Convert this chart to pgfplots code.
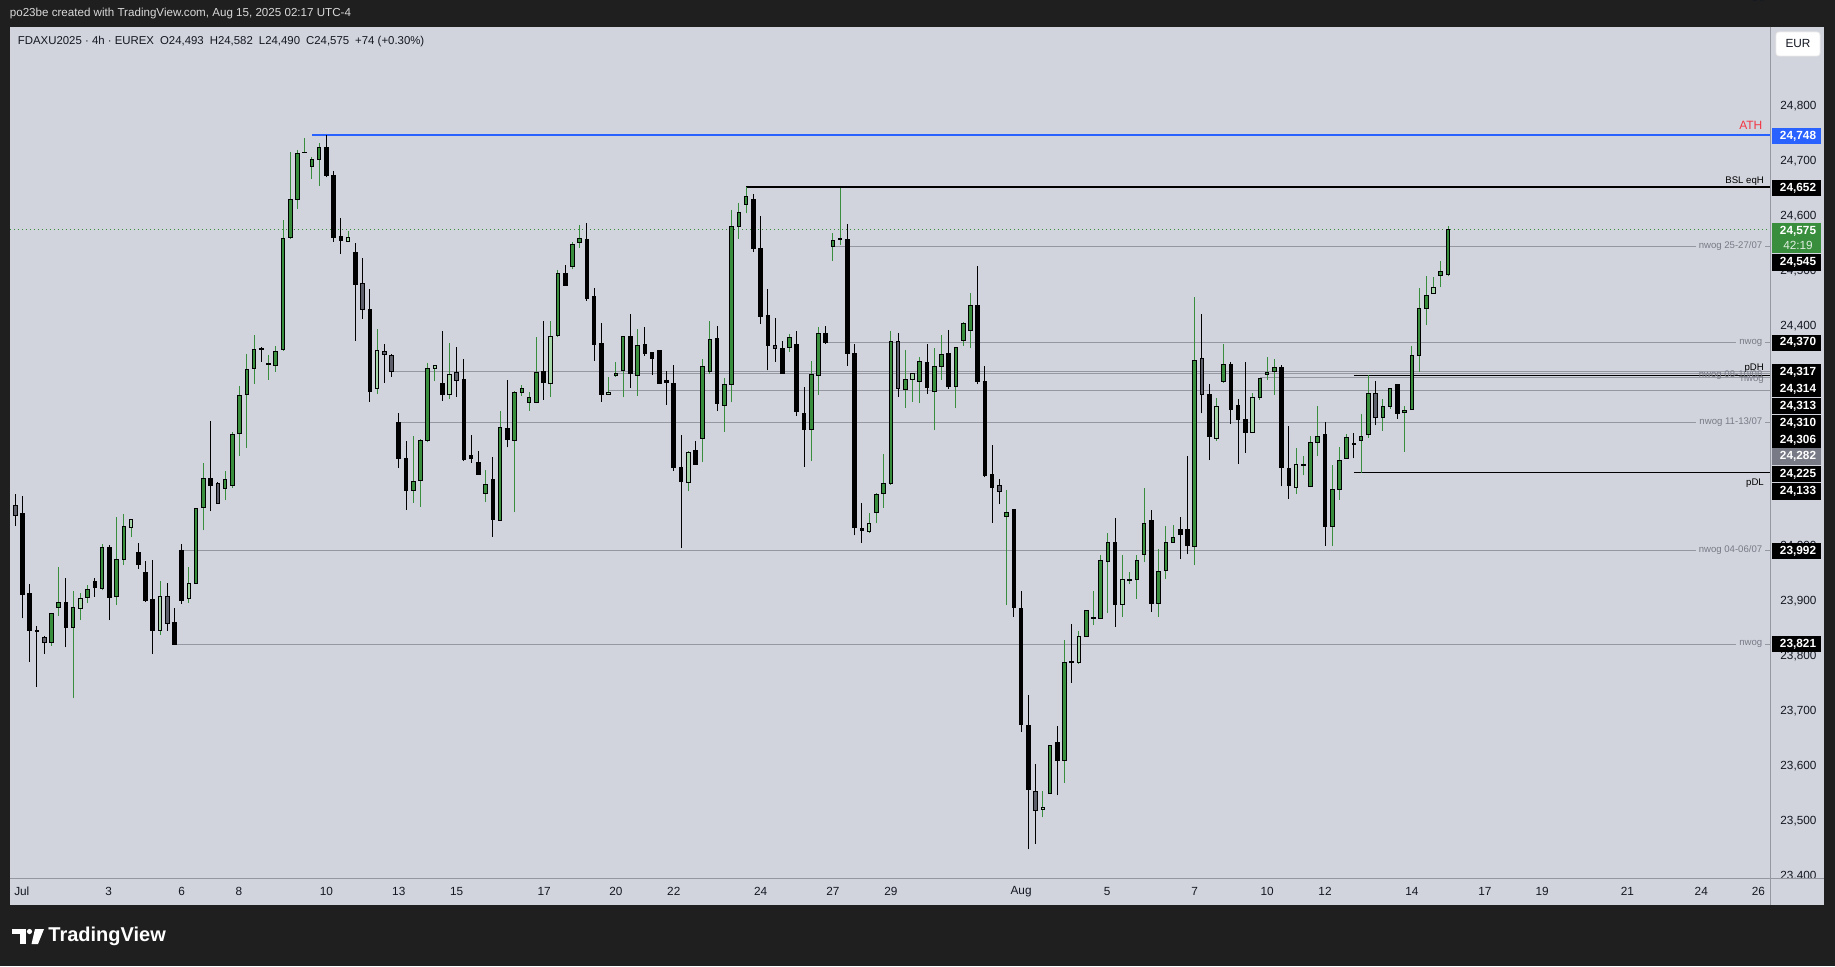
\documentclass[border=0pt]{standalone}
\usepackage{fontspec}
\setmainfont{Liberation Sans}
\usepackage{pgfplots}
\usepackage{pgfplotstable}
\pgfplotsset{compat=1.18}
\definecolor{tvbg}{HTML}{D1D4DC}
\definecolor{frame}{HTML}{1F1F1F}
\definecolor{tvtext}{HTML}{131722}
\definecolor{hdr}{HTML}{D9D9D9}
\definecolor{cG}{HTML}{388E3C}
\definecolor{cL}{HTML}{A5D6A7}
\definecolor{cY}{HTML}{5D606B}
\definecolor{lvl}{HTML}{9598A1}
\definecolor{lbl}{HTML}{787B86}
\definecolor{athblue}{HTML}{2962FF}
\definecolor{athred}{HTML}{F23645}
\definecolor{boxgray}{HTML}{787B86}

\newcommand{\tickf}{\fontsize{5.9pt}{7pt}\selectfont}
\newcommand{\lblf}{\fontsize{4.8pt}{6pt}\selectfont}
\newcommand{\candlebody}[3]{\path #2 coordinate (eA) #3 coordinate (eB);%
  \filldraw[fill=#1, draw=black, line width=0.5pt] ([xshift=-0.9pt]eA) rectangle ([xshift=0.9pt]eB);}
\newcommand{\candlewick}[3]{\draw[draw=#1, line width=0.5pt] #2 -- #3;}
\pgfplotsset{
  wick/.style={forget plot, draw=none, mark=none, error bars/.cd, y dir=plus, y explicit,
     draw error bar/.code 2 args={\candlewick{#1}{##1}{##2}}},
  body/.style={forget plot, draw=none, mark=none, error bars/.cd, y dir=plus, y explicit,
     draw error bar/.code 2 args={\candlebody{#1}{##1}{##2}}},
  lvlline/.style={forget plot, lvl, line width=0.6pt},
}
\tikzset{
  nw/.style={anchor=east, fill=tvbg, inner xsep=1.5pt, inner ysep=0.3pt, text=lbl, font=\lblf},
}

% bullish, dark green
\pgfplotstableread{
i o h l c
5 23824 23877 23818 23877
6 23888 23962 23873 23897
8 23851 23917 23723 23888
10 23906 23929 23896 23921
12 23922 24004 23919 23997
14 23907 24052 23893 23975
15 23975 24058 23966 24035
25 23932 24068 23931 24068
26 24070 24151 24028 24122
29 24104 24137 24083 24120
30 24110 24208 24105 24203
31 24205 24291 24164 24274
32 24275 24349 24178 24321
33 24323 24383 24294 24358
35 24329 24347 24302 24331
36 24328 24363 24317 24354
37 24357 24593 24355 24559
38 24560 24716 24558 24630
39 24630 24720 24613 24714
40 24715 24742 24714 24716
41 24690 24708 24667 24703
42 24702 24733 24655 24725
55 24100 24200 24078 24117
56 24118 24194 24071 24191
57 24191 24332 24188 24323
65 24095 24138 24080 24112
67 24047 24245 24045 24216
69 24192 24282 24061 24279
70 24279 24293 24273 24287
71 24261 24279 24246 24270
72 24261 24380 24259 24316
75 24383 24502 24379 24496
77 24508 24553 24503 24548
78 24552 24584 24542 24559
83 24310 24334 24308 24314
84 24319 24381 24270 24381
86 24310 24394 24273 24365
95 24196 24340 24153 24327
96 24317 24409 24313 24376
98 24256 24305 24208 24294
99 24294 24611 24261 24581
100 24581 24623 24559 24607
101 24621 24652 24605 24636
107 24361 24385 24353 24379
110 24212 24336 24155 24312
111 24310 24398 24275 24387
113 24545 24569 24519 24556
114 24557 24650 24548 24559
119 24061 24096 24041 24094
120 24096 24167 24069 24114
121 24114 24390 24111 24371
123 24285 24356 24251 24303
125 24299 24343 24259 24336
127 24280 24359 24211 24327
128 24327 24384 24302 24348
130 24290 24361 24250 24361
131 24374 24407 24364 24405
132 24392 24460 24359 24437
137 24053 24102 23893 24060
143 23550 23636 23548 23636
145 23609 23828 23569 23788
148 23835 23882 23835 23882
149 23868 23918 23856 23870
150 23867 23984 23867 23974
151 23971 24023 23878 24006
154 23937 23953 23931 23939
155 23938 23984 23903 23974
156 23984 24106 23970 24040
158 23896 23994 23871 23953
159 23955 24037 23940 24006
160 24007 24038 24007 24016
163 23998 24452 23966 24338
167 24299 24367 24297 24330
172 24270 24305 24265 24305
173 24312 24343 24302 24316
174 24317 24340 24275 24325
178 24146 24163 24128 24148
179 24108 24199 24107 24188
180 24188 24254 24164 24199
182 24035 24147 24000 24103
183 24103 24180 24084 24155
184 24159 24203 24159 24197
186 24192 24240 24133 24199
187 24203 24310 24197 24277
189 24234 24267 24209 24254
190 24254 24286 24249 24286
192 24242 24254 24171 24246
193 24248 24363 24247 24346
194 24346 24469 24316 24432
195 24432 24491 24402 24456
197 24492 24518 24470 24499
198 24493 24582 24490 24575
}\tG

% bullish, light green
\pgfplotstableread{
i o h l c
9 23886 23915 23865 23904
16 24033 24048 24016 24048
20 23846 23937 23838 23908
24 23904 23961 23896 23932
46 24554 24573 24554 24561
50 24286 24394 24277 24356
58 24323 24328 24300 24328
60 24275 24369 24267 24312
74 24296 24409 24271 24381
82 24276 24307 24276 24279
93 24116 24173 24099 24170
118 24026 24060 24023 24041
124 24303 24314 24262 24314
142 23521 23555 23506 23525
147 23787 23846 23785 23835
153 23893 23984 23871 23938
166 24195 24269 24191 24254
171 24206 24278 24205 24270
177 24106 24178 24095 24148
196 24459 24489 24459 24470
}\tL

% bearish, black
\pgfplotstableread{
i o h l c
1 24058 24090 23868 23912
2 23914 23930 23789 23846
3 23846 23855 23744 23844
7 23897 23941 23816 23851
11 23935 23941 23907 23924
13 23997 24001 23865 23906
17 23988 24006 23958 23966
18 23952 23972 23898 23900
19 23902 23974 23803 23846
22 23861 23887 23821 23821
23 23992 24004 23895 23900
27 24122 24228 24063 24110
34 24359 24361 24335 24357
43 24725 24748 24670 24673
44 24674 24681 24553 24560
45 24563 24596 24531 24555
47 24534 24551 24373 24475
49 24429 24467 24262 24280
53 24225 24242 24142 24158
54 24158 24191 24066 24100
59 24295 24391 24264 24275
62 24302 24340 24155 24157
63 24165 24202 24151 24158
64 24152 24172 24129 24129
66 24120 24162 24017 24048
68 24214 24302 24179 24194
73 24317 24409 24266 24297
76 24496 24511 24473 24473
79 24558 24587 24446 24450
80 24453 24469 24337 24367
81 24368 24405 24262 24276
85 24381 24422 24288 24313
87 24367 24398 24346 24350
88 24352 24352 24311 24341
89 24356 24356 24295 24295
90 24301 24318 24257 24297
91 24296 24329 24137 24143
92 24143 24202 23997 24117
94 24173 24191 24148 24148
97 24377 24400 24246 24259
102 24630 24640 24535 24541
103 24541 24600 24404 24417
104 24419 24467 24319 24364
106 24359 24373 24313 24313
108 24367 24391 24237 24244
109 24241 24289 24144 24212
112 24387 24400 24368 24370
115 24557 24585 24328 24350
116 24349 24368 24019 24033
117 24032 24078 24006 24028
126 24334 24367 24277 24288
129 24350 24393 24285 24290
133 24438 24509 24294 24299
134 24299 24328 24125 24128
135 24130 24184 24042 24106
138 24067 24067 23871 23888
139 23886 23917 23662 23675
140 23673 23729 23448 23556
144 23643 23673 23546 23609
146 23789 23857 23751 23788
152 24006 24050 23853 23893
157 24047 24066 23880 23896
161 24029 24052 23976 24020
162 24029 24164 23985 24000
165 24275 24295 24156 24198
168 24329 24334 24222 24248
169 24256 24267 24149 24229
170 24229 24334 24169 24206
175 24325 24329 24108 24142
176 24141 24218 24086 24109
181 24203 24225 24000 24035
185 24187 24205 24159 24185
191 24294 24294 24231 24241
}\tB

% bearish, grey
\pgfplotstableread{
i o h l c
0 24073 24094 24036 24055
4 23833 23836 23804 23824
21 23908 23932 23846 23858
28 24114 24117 24077 24077
48 24477 24524 24413 24430
51 24354 24367 24297 24348
52 24347 24349 24308 24317
61 24316 24362 24271 24300
105 24365 24414 24335 24359
122 24371 24387 24271 24287
136 24109 24121 24076 24098
141 23554 23604 23458 23518
164 24341 24421 24241 24275
188 24277 24300 24219 24234
}\tY

\newcommand{\pbox}[3]{\fill[#1] (1772,#2-8.2) rectangle (1821,#2+8.2);
  \node[text=white, inner sep=0pt, font=\bfseries\tickf] at (1798,#2) {#3};}

\begin{document}
\begin{tikzpicture}
\path[use as bounding box] (0,0) rectangle (917.5pt,483pt);
\fill[frame] (0,0) rectangle (917.5pt,483pt);
\begin{scope}[x=0.5pt,y=-0.5pt,yshift=483pt]
  \fill[tvbg] (10,27) rectangle (1824,905);
\end{scope}

\begin{axis}[
  at={(5pt,44pt)}, anchor=south west,
  scale only axis, width=880pt, height=425.5pt,
  xmin=-0.73, xmax=242.5, ymin=23395.9, ymax=24943.7,
  axis background/.style={fill=tvbg},
  axis line style={draw=none},
  tick style={draw=none},
  major tick length=0pt,
  ytick={23400,23500,...,24800},
  yticklabels={{23,400},{23,500},{23,600},{23,700},{23,800},{23,900},{24,000},{24,100},{24,200},{24,300},{24,400},{24,500},{24,600},{24,700},{24,800}},
  yticklabel pos=right,
  yticklabel style={anchor=west, xshift=5pt, inner sep=0pt, font=\tickf, text=tvtext},
  xtick={0.9,12.9,23,30.9,43,53,61,73.1,83,91,103,113,121,139,150.9,163,173,181,193,203.1,211,222.8,233,240.9},
  xticklabels={Jul,3,6,8,10,13,15,17,20,22,24,27,29,Aug,5,7,10,12,14,17,19,21,24,26},
  xticklabel style={anchor=center, yshift=-6.85pt, inner sep=0pt, font=\tickf, text=tvtext},
]
% level lines
\addplot[lvlline] coordinates {(113,24545) (242.5,24545)};
\addplot[lvlline] coordinates {(112,24370) (242.5,24370)};
\addplot[lvlline] coordinates {(52,24317) (242.5,24317)};
\addplot[lvlline] coordinates {(83,24314) (242.5,24314)};
\addplot[lvlline] coordinates {(173,24313) (242.5,24313)};
\addplot[lvlline] coordinates {(172,24306) (242.5,24306)};
\addplot[lvlline] coordinates {(82,24282) (242.5,24282)};
\addplot[lvlline] coordinates {(53,24225) (242.5,24225)};
\addplot[lvlline] coordinates {(23,23992) (242.5,23992)};
\addplot[lvlline] coordinates {(22,23821) (242.5,23821)};
\addplot[forget plot, black, line width=0.5pt] coordinates {(185,24310) (242.5,24310)};
\addplot[forget plot, black, line width=0.5pt] coordinates {(185,24133) (242.5,24133)};
\addplot[forget plot, athblue, line width=1pt] coordinates {(41,24748) (242.5,24748)};
\addplot[forget plot, black, line width=1pt] coordinates {(101,24652) (242.5,24652)};
\addplot[forget plot, cG, line width=0.5pt, dash pattern=on 0.6pt off 1.4pt] coordinates {(-0.73,24575) (242.5,24575)};

% wicks
\addplot[wick=cG] table[x=i, y=l, y error plus expr=\thisrow{h}-\thisrow{l}] {\tG};
\addplot[wick=cG] table[x=i, y=l, y error plus expr=\thisrow{h}-\thisrow{l}] {\tL};
\addplot[wick=black] table[x=i, y=l, y error plus expr=\thisrow{h}-\thisrow{l}] {\tB};
\addplot[wick=black] table[x=i, y=l, y error plus expr=\thisrow{h}-\thisrow{l}] {\tY};
% bodies
\addplot[body=cG] table[x=i, y=o, y error plus expr=\thisrow{c}-\thisrow{o}] {\tG};
\addplot[body=cL] table[x=i, y=o, y error plus expr=\thisrow{c}-\thisrow{o}] {\tL};
\addplot[body=black] table[x=i, y=c, y error plus expr=\thisrow{o}-\thisrow{c}] {\tB};
\addplot[body=cY] table[x=i, y=c, y error plus expr=\thisrow{o}-\thisrow{c}] {\tY};

% line labels
\node[anchor=east, inner sep=0pt, text=athred, font=\fontsize{6pt}{7pt}\selectfont] at (axis cs:241.5,24764) {ATH};
\node[anchor=east, inner sep=0pt, text=black, font=\lblf] at (axis cs:241.7,24664) {BSL eqH};
\node[nw] at (axis cs:241.9,24545) {nwog 25-27/07};
\node[nw] at (axis cs:241.9,24370) {nwog};
\node[anchor=east, inner sep=0pt, text=black, font=\lblf] at (axis cs:241.7,24324) {pDH};
\node[anchor=east, inner sep=0pt, text=lbl, font=\lblf] at (axis cs:241.5,24311) {nwog 08-10/08};
\node[anchor=east, inner sep=0pt, text=lbl, font=\lblf] at (axis cs:241.7,24302) {nwog};
\node[nw] at (axis cs:241.9,24225) {nwog 11-13/07};
\node[anchor=east, inner sep=0pt, text=black, font=\lblf] at (axis cs:241.7,24114) {pDL};
\node[nw] at (axis cs:241.9,23992) {nwog 04-06/07};
\node[nw] at (axis cs:241.9,23821) {nwog};
\end{axis}

\begin{scope}[x=0.5pt,y=-0.5pt,yshift=483pt]
  \fill[tvbg] (1771,878.3) rectangle (1824,905);
  \draw[lvl, line width=0.5pt] (1770,27) -- (1770,905);
  \draw[lvl, line width=0.5pt] (10,878) -- (1824,878);
  \node[anchor=west, inner sep=0pt, text=hdr, font=\fontsize{5.8pt}{7pt}\selectfont] at (9.5,14) {po23be created with TradingView.com, Aug 15, 2025 02:17 UTC-4};
  \node[anchor=west, inner sep=0pt, text=tvtext, font=\fontsize{5.7pt}{7pt}\selectfont] at (17.5,42) {FDAXU2025 · 4h · EUREX\hspace{3pt}O24,493\hspace{3pt}H24,582\hspace{3pt}L24,490\hspace{3pt}C24,575\hspace{3pt}+74 (+0.30\%)};
  \draw[fill=white, draw=white!85!gray, rounded corners=1.5pt] (1776,32) rectangle (1820,56);
  \node[inner sep=0pt, text=tvtext, font=\tickf] at (1798,44) {EUR};
  \pbox{athblue}{136.2}{24,748}
  \pbox{black}{188.3}{24,652}
  \fill[cG] (1772,223.3) rectangle (1821,253.3);
  \node[text=white, inner sep=0pt, font=\bfseries\tickf] at (1798,231) {24,575};
  \node[text=white!85!cG, inner sep=0pt, font=\tickf] at (1798,245) {42:19};
  \pbox{black}{262.5}{24,545}
  \pbox{black}{342.7}{24,370}
  \pbox{black}{372.5}{24,317}
  \pbox{black}{389.2}{24,314}
  \pbox{black}{405.8}{24,313}
  \pbox{black}{423.3}{24,310}
  \pbox{black}{439.8}{24,306}
  \pbox{boxgray}{456.5}{24,282}
  \pbox{black}{473.8}{24,225}
  \pbox{black}{491.3}{24,133}
  \pbox{black}{551}{23,992}
  \pbox{black}{644.2}{23,821}
  \fill[white] (12,929) rectangle (26,933.5);
  \fill[white] (20,929) rectangle (26,944);
  \fill[white] (29.5,931.5) circle (2.6);
  \fill[white] (35,929) -- (44,929) -- (38,944) -- (31.5,944) -- cycle;
  \node[anchor=west, inner sep=0pt, text=white, font=\bfseries\fontsize{10pt}{12pt}\selectfont] at (48,936.5) {TradingView};
\end{scope}
\end{tikzpicture}
\end{document}
